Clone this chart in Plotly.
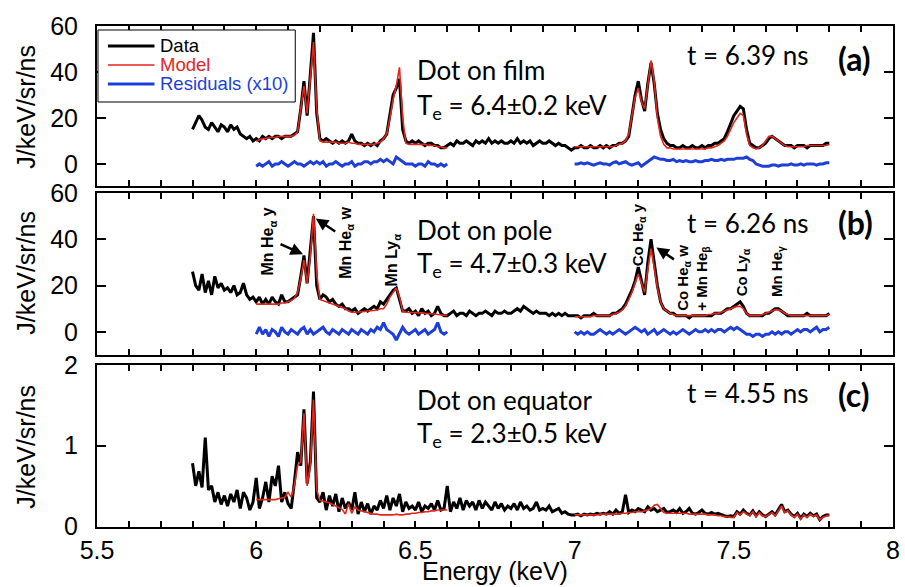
import plotly.graph_objects as go

# ---------------- data ----------------
ENERGY = [round(5.80 + 0.01 * i, 2) for i in range(201)]          # 5.80 .. 7.80 keV
E_LOW = [round(6.00 + 0.01 * i, 2) for i in range(61)]            # 6.00 .. 6.60 keV
E_HIGH = [round(7.00 + 0.01 * i, 2) for i in range(81)]           # 7.00 .. 7.80 keV

DATA_A = [
    15, 18, 21, 19, 16, 15, 18, 16, 14, 17,
    16, 14, 17, 15, 16, 13, 12, 11, 12, 10,
    11, 10, 12, 11, 12, 11, 12, 12, 11, 12,
    12, 12, 13, 14, 24, 36, 21, 38, 57, 22,
    11, 10, 11, 10, 9, 10, 9, 10, 9, 10,
    13, 10, 9, 9, 8, 9, 8, 9, 8, 10,
    11, 13, 22, 30, 33, 37, 15, 10, 9, 10,
    9, 10, 9, 8, 9, 9, 8, 8, 7, 7,
    8, 9, 8, 10, 9, 9, 10, 9, 8, 10,
    9, 10, 9, 11, 9, 10, 9, 10, 9, 9,
    10, 9, 11, 9, 10, 9, 10, 8, 9, 10,
    9, 9, 10, 9, 8, 9, 8, 8, 7, 6,
    7, 7, 8, 7, 7, 8, 7, 7, 8, 7,
    8, 7, 8, 8, 9, 9, 10, 12, 21, 30,
    36, 28, 23, 35, 44, 35, 22, 15, 11, 9,
    8, 8, 7, 7, 8, 7, 7, 8, 7, 7,
    8, 7, 8, 8, 9, 9, 10, 11, 14, 18,
    21, 23, 25, 24, 15, 9, 8, 7, 7, 8,
    9, 11, 12, 11, 10, 9, 8, 8, 8, 7,
    8, 8, 8, 7, 8, 8, 8, 8, 8, 9,
    9,
]
MODEL_A_LOW = [
    10, 10.5, 11, 11, 11.5, 11.5, 11.5, 12, 12, 12,
    12, 12, 12.5, 14, 24, 34, 22, 36, 53, 24,
    10, 9.5, 9.5, 9.5, 9.5, 9.5, 9, 9, 9, 9.5,
    9, 9, 8.5, 8.5, 8.5, 8.5, 8.5, 8.5, 9, 9.5,
    11, 13, 20, 28, 34, 42, 20, 9, 8.5, 8.5,
    8.5, 8.5, 8.5, 8.5, 8, 8, 8, 7.5, 7.5, 7,
    7,
]
MODEL_A_HIGH = [
    7.5, 7.5, 7.5, 7.5, 7.5, 7.5, 7.5, 7.5, 7.5, 7.5,
    7.5, 7.5, 7.5, 8, 8.5, 9, 10, 13, 21, 29,
    33, 27, 24, 34, 45, 36, 20, 12, 8.5, 7,
    7, 6.5, 6.5, 6.5, 6.5, 6.5, 6.5, 6.5, 6.5, 6.5,
    6.5, 6.5, 7, 7, 7.5, 8, 9, 10, 12, 15,
    18, 20, 22, 21, 13, 8, 7, 6.5, 7, 8,
    10, 12, 12, 11, 10, 9, 8, 7.5, 7.5, 7.5,
    7.5, 7.5, 7.5, 8, 8, 8, 8, 8, 8, 8,
    8.5,
]
RESID_A_LOW = [
    -1, 0, -1, 0, 1, -1, 0, 0, 1, 0,
    -1, 0, 1, 0, 0, -1, 0, 1, 0, 1,
    0, 1, -1, 0, 0, 1, 0, -1, 0, 0,
    1, -1, 0, 0, 1, 1, 0, 1, 1, 2,
    1, 2, 1, 0, 3, 2, 1, 0, 0, 0,
    -1, 0, 0, -1, 1, 0, 0, -1, 0, -1,
    0,
]
RESID_A_HIGH = [
    0, 0, 0.5, 0, 0.5, 0, -0.5, 0, 0.5, 0,
    0, -0.5, 0.5, 1, 0, 0.5, 1, 0, -0.5, 0,
    0.5, -1, 0, 1, 2, 3, 2.5, 2, 2, 1.5,
    1.5, 2, 1, 1.5, 1, 1.5, 1, 1, 1.5, 1,
    1, 1.5, 1.5, 2, 1.5, 1.5, 2, 1.5, 2, 2,
    2, 2.5, 2.5, 2.5, 3, 2, 1.5, 0, -0.5, -1,
    -1, -1, -0.5, -0.5, -1, -0.5, -0.5, -0.5, 0, -0.5,
    -0.5, 0, -0.5, 0, 0, 0, -0.5, 0, 0, 0.5,
    0.5,
]

DATA_B = [
    26, 20, 18, 25, 17, 22, 16, 24, 19, 21,
    18, 19, 17, 20, 16, 17, 21, 16, 14, 15,
    13, 15, 12, 14, 12, 15, 13, 12, 16, 13,
    13, 14, 15, 16, 24, 33, 21, 34, 50, 20,
    14, 16, 15, 13, 14, 12, 11, 12, 10, 10,
    9, 10, 8, 9, 10, 9, 10, 11, 10, 13,
    12, 14, 16, 18, 19, 14, 9, 9, 10, 8,
    9, 7, 10, 8, 9, 7, 8, 11, 8, 7,
    7, 8, 9, 7, 8, 8, 7, 9, 8, 7,
    8, 8, 9, 8, 7, 9, 8, 8, 9, 8,
    8, 9, 10, 9, 11, 10, 9, 8, 9, 8,
    8, 8, 7, 8, 7, 8, 7, 8, 7, 7,
    7, 7, 6, 7, 7, 7, 8, 7, 7, 7,
    7, 7, 8, 8, 9, 10, 12, 15, 18, 22,
    28, 22, 16, 30, 40, 30, 20, 13, 10, 9,
    8, 8, 7, 7, 7, 7, 6, 7, 7, 7,
    7, 7, 7, 7, 8, 8, 8, 9, 10, 10,
    11, 12, 13, 11, 8, 7, 7, 7, 7, 7,
    8, 8, 9, 10, 10, 9, 8, 7, 7, 7,
    7, 7, 7, 8, 7, 7, 7, 7, 7, 7,
    8,
]
MODEL_B_LOW = [
    12, 12, 12, 12, 12, 12, 12, 12, 12.5, 12.5,
    13, 13.5, 14.5, 17, 23, 31, 21, 33, 51, 25,
    14, 13.5, 13, 12.5, 12, 11.5, 11, 10.5, 10, 9,
    8.5, 8.5, 8.5, 8.5, 8.8, 9, 9, 9.2, 9.5, 10,
    10, 12, 15, 17, 19, 15, 9, 8.5, 8.5, 8.5,
    8.5, 8.3, 8.2, 8, 8, 7.8, 7.7, 7.5, 7.3, 7,
    7,
]
MODEL_B_HIGH = [
    6.5, 6.5, 6.5, 6.5, 6.5, 6.5, 7, 7, 7, 7,
    7, 7, 7.5, 8, 8.5, 9.5, 11, 14, 17, 21,
    25, 21, 17, 27, 36, 28, 19, 13, 10, 9,
    8, 7.5, 7, 7, 7, 7, 7, 7, 7, 7,
    7, 7, 7.5, 7.5, 8, 8, 8.5, 9, 9.5, 10,
    10.5, 11, 11, 10, 8, 7, 7, 7, 7, 7.5,
    8, 8.5, 9, 9.5, 9.5, 9, 8, 7.5, 7, 7,
    7, 7, 7, 7, 7, 7, 7, 7, 7, 7,
    7.5,
]
RESID_B_LOW = [
    -1, 2, -1, 1, -2, 1, 0, -2, 2, 0,
    -1, 1, 0, -1, 1, 2, -1, 1, -1, 0,
    1, 2, 0, -1, 1, 0, -1, 1, 0, -1,
    1, 0, -1, 1, 0, -1, 1, 0, 2, 1,
    4, 1, 0, -1, -3.5, -1, 2, 0, -1, 0,
    1, -1, 0, 1, -1, 0, 1, 4, 0, -1,
    0,
]
RESID_B_HIGH = [
    0, -1, 0, -1, 0, -1, -1, 0, 1, 0,
    -1, 0, -1, 0, 1, 0, -1, 0, 1, 2,
    1, 0, 1, -1, 0, 1, -1, 0, 1, 0,
    -1, 0, -1, 0, 1, 0, -1, 0, 1, 0,
    0, 1, 0, 1, 0, 1, 1, 0, 1, 2,
    1, 2, 1, 0, -1, -1, -2, -1, -1, -2,
    -1, -1, 0, -1, 0, -1, 0, 0, -1, 0,
    1, 0, 1, 1, 0, 1, 2, 0, 1, 1,
    2,
]

DATA_C = [
    0.78, 0.5, 0.68, 0.48, 1.1, 0.45, 0.5, 0.3, 0.42, 0.27,
    0.38, 0.25, 0.4, 0.3, 0.45, 0.22, 0.42, 0.35, 0.2, 0.3,
    0.6, 0.22, 0.35, 0.55, 0.3, 0.62, 0.5, 0.75, 0.3, 0.42,
    0.28, 0.22, 0.55, 0.92, 0.75, 1.45, 0.53, 0.8, 1.67, 0.35,
    0.3, 0.42, 0.2, 0.38, 0.25, 0.4, 0.18, 0.35, 0.22, 0.3,
    0.2, 0.42, 0.15, 0.3, 0.18, 0.28, 0.15, 0.25, 0.2, 0.32,
    0.22, 0.38, 0.2, 0.35, 0.25, 0.4, 0.18, 0.3, 0.22, 0.25,
    0.2, 0.3, 0.18, 0.25, 0.22, 0.28, 0.2, 0.32, 0.2, 0.22,
    0.5, 0.18, 0.3, 0.22, 0.35, 0.2, 0.32, 0.25, 0.3, 0.2,
    0.32, 0.22, 0.3, 0.25, 0.2, 0.3, 0.22, 0.28, 0.2, 0.25,
    0.22, 0.28, 0.2, 0.3, 0.22, 0.25, 0.2, 0.22, 0.3, 0.2,
    0.22, 0.2, 0.25, 0.18, 0.2, 0.22, 0.16, 0.18, 0.15, 0.14,
    0.14, 0.15, 0.13, 0.15, 0.14, 0.15, 0.14, 0.16, 0.15, 0.16,
    0.15, 0.18, 0.15, 0.2, 0.16, 0.18, 0.39, 0.17, 0.2, 0.18,
    0.22, 0.2, 0.18, 0.24, 0.2, 0.22, 0.18, 0.2, 0.22, 0.17,
    0.18, 0.2, 0.17, 0.22, 0.16, 0.18, 0.22, 0.16, 0.15, 0.17,
    0.2, 0.16, 0.15, 0.17, 0.15, 0.16, 0.14, 0.13, 0.12, 0.13,
    0.12, 0.18, 0.15, 0.2, 0.16, 0.14, 0.19, 0.13, 0.18, 0.14,
    0.12, 0.15, 0.18, 0.14, 0.2, 0.27, 0.18, 0.2, 0.15, 0.12,
    0.16, 0.1, 0.15, 0.12, 0.16, 0.13, 0.15, 0.08, 0.12, 0.14,
    0.14,
]
MODEL_C_LOW = [
    0.33, 0.33, 0.33, 0.33, 0.33, 0.33, 0.33, 0.34, 0.35, 0.36,
    0.42, 0.36, 0.5, 0.75, 0.8, 1.4, 0.5, 0.75, 1.57, 0.45,
    0.32, 0.31, 0.3, 0.29, 0.27, 0.25, 0.23, 0.21, 0.15, 0.28,
    0.16, 0.24, 0.2, 0.19, 0.18, 0.17, 0.16, 0.15, 0.15, 0.14,
    0.14, 0.14, 0.14, 0.14, 0.15, 0.14, 0.14, 0.15, 0.15, 0.16,
    0.16, 0.17, 0.17, 0.18, 0.18, 0.19, 0.19, 0.2, 0.2, 0.2,
    0.2,
]
MODEL_C_HIGH = [
    0.14, 0.14, 0.14, 0.14, 0.14, 0.14, 0.14, 0.14, 0.15, 0.15,
    0.15, 0.15, 0.15, 0.15, 0.15, 0.16, 0.16, 0.17, 0.17, 0.18,
    0.18, 0.18, 0.19, 0.2, 0.22, 0.26, 0.27, 0.22, 0.17, 0.16,
    0.16, 0.16, 0.16, 0.16, 0.16, 0.16, 0.15, 0.15, 0.15, 0.15,
    0.15, 0.15, 0.14, 0.14, 0.14, 0.13, 0.13, 0.12, 0.12, 0.11,
    0.11, 0.17, 0.14, 0.18, 0.15, 0.13, 0.18, 0.12, 0.17, 0.13,
    0.12, 0.14, 0.17, 0.13, 0.19, 0.25, 0.17, 0.19, 0.14, 0.11,
    0.15, 0.09, 0.14, 0.11, 0.15, 0.12, 0.14, 0.08, 0.11, 0.13,
    0.14,
]

X_TICK_VALS = [5.5, 5.6, 5.7, 5.8, 5.9, 6.0, 6.1, 6.2, 6.3, 6.4, 6.5, 6.6, 6.7,
               6.8, 6.9, 7.0, 7.1, 7.2, 7.3, 7.4, 7.5, 7.6, 7.7, 7.8, 7.9, 8.0]
X_TICK_TEXT = ["5.5", "", "", "", "", "6", "", "", "", "", "6.5", "", "", "",
               "", "7", "", "", "", "", "7.5", "", "", "", "", "8"]
PANEL_TITLES = ["Dot on film", "Dot on pole", "Dot on equator"]
PANEL_TE = ["6.4±0.2", "4.7±0.3", "2.3±0.5"]
PANEL_TIMES = ["6.39", "6.26", "4.55"]
PANEL_TAGS = ["(a)", "(b)", "(c)"]
LEGEND_NAMES = ["Data", "Model", "Residuals (x10)"]

BLACK = "#000000"
RED = "#e3261c"
BLUE = "#1d3fd8"
LEGEND_COLORS = [BLACK, RED, BLUE]
LEGEND_WIDTHS = [3, 1.6, 3]

# ---------------- geometry helpers (pixel -> paper) ----------------
L, R, T, B = 97, 900, 26, 527
W, H = 905, 587


def pxx(x):
    return (x - L) / (R - L)


def pxy(y):
    return (B - y) / (B - T)


panels = [(26, 186), (193, 355), (365, 527)]
ranges = [[-9.6, 60], [-10, 60], [-0.01, 2]]
ytick_sets = [[0, 20, 40, 60], [0, 20, 40, 60], [0, 1, 2]]

fig = go.Figure()

series = [
    (DATA_A, MODEL_A_LOW, MODEL_A_HIGH, RESID_A_LOW, RESID_A_HIGH),
    (DATA_B, MODEL_B_LOW, MODEL_B_HIGH, RESID_B_LOW, RESID_B_HIGH),
    (DATA_C, MODEL_C_LOW, MODEL_C_HIGH, None, None),
]

for i, (d, ml, mh, rl, rh) in enumerate(series):
    xa = "x" if i == 0 else f"x{i+1}"
    ya = "y" if i == 0 else f"y{i+1}"
    fig.add_trace(go.Scatter(x=ENERGY, y=d, mode="lines", xaxis=xa, yaxis=ya,
                             line=dict(color=BLACK, width=3), name="Data",
                             showlegend=False))
    fig.add_trace(go.Scatter(x=E_LOW + [None] + E_HIGH, y=ml + [None] + mh,
                             mode="lines", xaxis=xa, yaxis=ya,
                             line=dict(color=RED, width=1.6), name="Model",
                             showlegend=False))
    if rl is not None:
        fig.add_trace(go.Scatter(x=E_LOW + [None] + E_HIGH, y=rl + [None] + rh,
                                 mode="lines", xaxis=xa, yaxis=ya,
                                 line=dict(color=BLUE, width=3), name="Residuals (x10)",
                                 showlegend=False))

layout = dict(
    width=W, height=H,
    margin=dict(l=L, r=W - R, t=T, b=H - B),
    plot_bgcolor="white", paper_bgcolor="white",
    font=dict(family="Liberation Sans, Arial, sans-serif", color="black"),
    showlegend=False,
)

for i, (top, bot) in enumerate(panels):
    sfx = "" if i == 0 else str(i + 1)
    layout["xaxis" + sfx] = dict(
        domain=[0, 1], anchor="y" + sfx, range=[5.5, 8],
        tickvals=X_TICK_VALS, ticktext=X_TICK_TEXT,
        showticklabels=(i == 2), ticks="inside", ticklen=6, tickwidth=1.5,
        tickcolor="black", showline=True, linewidth=2, linecolor="black",
        mirror="ticks", showgrid=False, zeroline=False,
        tickfont=dict(size=25, family="Liberation Sans, Arial"),
        ticklabelstandoff=0,
    )
    layout["yaxis" + sfx] = dict(
        domain=[pxy(bot), pxy(top)], anchor="x" + sfx, range=ranges[i],
        tickvals=ytick_sets[i], ticks="inside", ticklen=9, tickwidth=1.5,
        tickcolor="black", showline=True, linewidth=2, linecolor="black",
        mirror="ticks", showgrid=False, zeroline=False,
        tickfont=dict(size=25, family="Liberation Sans, Arial"),
        ticklabelstandoff=12,
    )

fig.update_layout(**layout)

# ---------------- legend box (drawn as shapes + text) ----------------
shapes = [dict(type="rect", xref="paper", yref="paper",
               x0=pxx(98), x1=pxx(297), y0=pxy(102), y1=pxy(30),
               line=dict(color="black", width=1), fillcolor="white", layer="above")]
ann = []
legend_rows = [46, 65, 84]
for name, col, lw, ry in zip(LEGEND_NAMES, LEGEND_COLORS, LEGEND_WIDTHS, legend_rows):
    shapes.append(dict(type="line", xref="paper", yref="paper",
                       x0=pxx(108), x1=pxx(155), y0=pxy(ry), y1=pxy(ry),
                       line=dict(color=col, width=lw), layer="above"))
    ann.append(dict(x=pxx(159), y=pxy(ry), xref="paper", yref="paper", text=name,
                    showarrow=False, xanchor="left", yanchor="middle",
                    font=dict(family="Liberation Sans, Arial", size=18.5, color=col)))

lato = "Lato, Open Sans, sans-serif"
title_y = [70, 230, 400]
te_y = [106, 264, 434]
time_y = [55, 223, 393]
tag_y = [59, 223, 395]
ycent = [107, 273, 447]
for i in range(3):
    ann.append(dict(x=pxx(418), y=pxy(title_y[i]), xref="paper", yref="paper",
                    text=PANEL_TITLES[i], showarrow=False, xanchor="left", yanchor="middle",
                    font=dict(family=lato, size=26)))
    ann.append(dict(x=pxx(418), y=pxy(te_y[i]), xref="paper", yref="paper",
                    text=f"T<sub>e</sub> = {PANEL_TE[i]} keV", showarrow=False,
                    xanchor="left", yanchor="middle", font=dict(family=lato, size=26)))
    ann.append(dict(x=pxx(690), y=pxy(time_y[i]), xref="paper", yref="paper",
                    text=f"t = {PANEL_TIMES[i]} ns", showarrow=False,
                    xanchor="left", yanchor="middle", font=dict(family=lato, size=26)))
    ann.append(dict(x=pxx(843), y=pxy(tag_y[i]), xref="paper", yref="paper",
                    text=f"<b>{PANEL_TAGS[i]}</b>", showarrow=False,
                    xanchor="left", yanchor="middle", font=dict(family=lato, size=32)))
    ann.append(dict(x=pxx(25), y=pxy(ycent[i]), xref="paper", yref="paper",
                    text="J/keV/sr/ns", showarrow=False, textangle=-90,
                    xanchor="center", yanchor="middle",
                    font=dict(family="Liberation Sans, Arial", size=25)))

ann.append(dict(x=0.5, y=pxy(571), xref="paper", yref="paper", text="Energy (keV)",
                showarrow=False, xanchor="center", yanchor="middle",
                font=dict(family="Liberation Sans, Arial", size=25)))

# rotated line identifications in panel (b)
line_labels = [
    ("Mn He<sub>α</sub> y", 270, 241, 16),
    ("Mn He<sub>α</sub> w", 348, 243, 16),
    ("Mn Ly<sub>α</sub>", 395, 260, 16),
    ("Co He<sub>α</sub> y", 643, 235, 15),
    ("Co He<sub>α</sub> w", 688, 278, 15),
    ("+ Mn He<sub>β</sub>", 707, 278, 15),
    ("Co Ly<sub>α</sub>", 748, 272, 15),
    ("Mn He<sub>γ</sub>", 783, 272, 15),
]
for txt, x, y, s in line_labels:
    ann.append(dict(x=pxx(x), y=pxy(y), xref="paper", yref="paper", text=f"<b>{txt}</b>",
                    showarrow=False, textangle=-90, xanchor="center", yanchor="middle",
                    font=dict(family="Liberation Sans, Arial", size=s)))

# arrows in panel (b)
arrows = [(6.147, 33.5, -24, -11), (6.187, 49, 21, 14), (7.257, 36.5, 19, 13)]
for ex, ev, ax, ay in arrows:
    ann.append(dict(x=ex, y=ev, xref="x2", yref="y2", text="", showarrow=True,
                    ax=ax, ay=ay, arrowhead=2, arrowsize=1, arrowwidth=2.5,
                    arrowcolor="black"))

fig.update_layout(annotations=ann, shapes=shapes)
fig.write_html("out.html", config={"displayModeBar": False},
               post_script="document.body.style.margin='0';")
